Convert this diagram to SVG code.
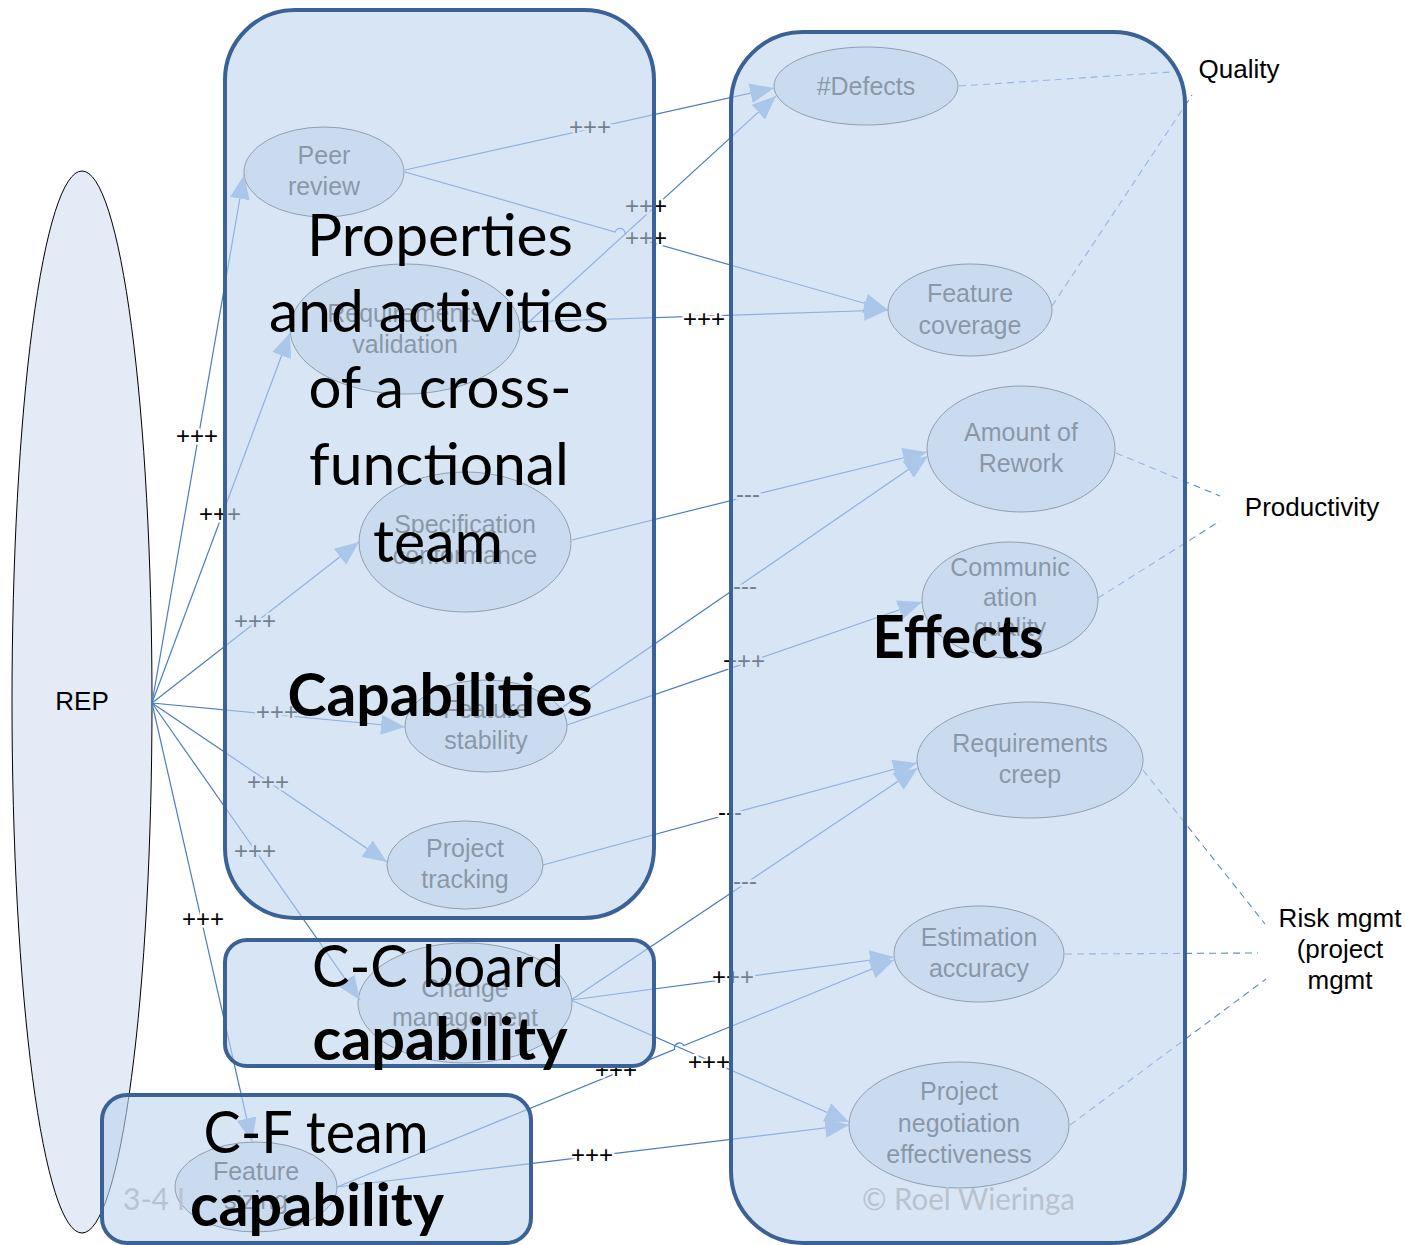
<svg xmlns="http://www.w3.org/2000/svg" width="1405" height="1245" viewBox="0 0 1405 1245">
<style>
.bg{fill:#ffffff}
.rep{fill:#e4ebf6;stroke:#000;stroke-width:1}
.node{fill:#dde7f3;stroke:#3a3a3a;stroke-width:0.9}
.nt{font-family:"Liberation Sans",Arial,sans-serif;font-size:25px;fill:#3c3c3c;text-anchor:middle}
.c{fill:none;stroke:#4a7dc4;stroke-width:1.2;marker-end:url(#arr)}
.d{fill:none;stroke:#5a8ad0;stroke-width:1.1;stroke-dasharray:7 5}
.lbl{font-family:"Liberation Sans",Arial,sans-serif;font-size:24px;fill:#000;text-anchor:middle;stroke:#fff;stroke-width:5;paint-order:stroke;stroke-linejoin:round}
.box{fill:#bed3ef;fill-opacity:0.6;stroke:#3b6296;stroke-width:4}
.big{font-family:Lato,"Open Sans",sans-serif;font-size:58px;fill:#000;text-anchor:middle}
.bigb{font-family:Lato,"Open Sans",sans-serif;font-size:60px;font-weight:700;fill:#000;text-anchor:middle}
.cat{font-family:"Liberation Sans",Arial,sans-serif;font-size:26px;fill:#000;text-anchor:middle}
.wm{font-family:Lato,"Open Sans",sans-serif;font-size:30px;fill:#b9c2cf}
</style>
<defs>
<marker id="arr" markerUnits="userSpaceOnUse" markerWidth="24" markerHeight="20" viewBox="0 0 24 20" refX="24" refY="10" orient="auto">
<path d="M0,0 L24,10 L0,20 z" fill="#8db3e2"/>
</marker>
</defs>
<rect class="bg" x="0" y="0" width="1405" height="1245"/>

<g id="rep"><ellipse class="rep" cx="82" cy="702" rx="70" ry="531"/><text class="cat" x="82" y="710">REP</text></g>

<g id="peer-review"><ellipse class="node" cx="324" cy="172" rx="80" ry="45"/><text class="nt" x="324" y="164">Peer</text><text class="nt" x="324" y="195">review</text></g>
<g id="requirements-validation"><ellipse class="node" cx="405" cy="329" rx="115" ry="65"/><text class="nt" x="405" y="322">Requirements</text><text class="nt" x="405" y="353">validation</text></g>
<g id="specification-conformance"><ellipse class="node" cx="465" cy="542" rx="106" ry="70"/><text class="nt" x="465" y="533">Specification</text><text class="nt" x="465" y="564">conformance</text></g>
<g id="feature-stability"><ellipse class="node" cx="486" cy="726" rx="81" ry="46"/><text class="nt" x="486" y="718">Feature</text><text class="nt" x="486" y="749">stability</text></g>
<g id="project-tracking"><ellipse class="node" cx="465" cy="865" rx="78" ry="44"/><text class="nt" x="465" y="857">Project</text><text class="nt" x="465" y="888">tracking</text></g>
<g id="change-management"><ellipse class="node" cx="465" cy="1003" rx="107" ry="60"/><text class="nt" x="465" y="997">Change</text><text class="nt" x="465" y="1026">management</text></g>
<g id="feature-sizing"><ellipse class="node" cx="256" cy="1187" rx="81" ry="45"/><text class="nt" x="256" y="1180">Feature</text><text class="nt" x="256" y="1209">sizing</text></g>

<g id="defects"><ellipse class="node" cx="866" cy="86" rx="92" ry="39"/><text class="nt" x="866" y="95">#Defects</text></g>
<g id="feature-coverage"><ellipse class="node" cx="970" cy="310" rx="82" ry="46"/><text class="nt" x="970" y="302">Feature</text><text class="nt" x="970" y="334">coverage</text></g>
<g id="amount-of-rework"><ellipse class="node" cx="1021" cy="449" rx="94" ry="63"/><text class="nt" x="1021" y="441">Amount of</text><text class="nt" x="1021" y="472">Rework</text></g>
<g id="communication-quality"><ellipse class="node" cx="1010" cy="600" rx="88" ry="58"/><text class="nt" x="1010" y="576">Communic</text><text class="nt" x="1010" y="606">ation</text><text class="nt" x="1010" y="636">quality</text></g>
<g id="requirements-creep"><ellipse class="node" cx="1030" cy="760" rx="113" ry="58"/><text class="nt" x="1030" y="752">Requirements</text><text class="nt" x="1030" y="783">creep</text></g>
<g id="estimation-accuracy"><ellipse class="node" cx="979" cy="954" rx="85" ry="48"/><text class="nt" x="979" y="946">Estimation</text><text class="nt" x="979" y="977">accuracy</text></g>
<g id="project-negotiation-effectiveness"><ellipse class="node" cx="959" cy="1125" rx="110" ry="63"/><text class="nt" x="959" y="1100">Project</text><text class="nt" x="959" y="1132">negotiation</text><text class="nt" x="959" y="1163">effectiveness</text></g>

<g id="connectors">
<path class="c" d="M152,703 L244,175"/>
<path class="c" d="M152,703 L290,333"/>
<path class="c" d="M152,703 L359,542"/>
<path class="c" d="M152,703 L405,727"/>
<path class="c" d="M152,703 L387,862"/>
<path class="c" d="M152,703 L360,1000"/>
<path class="c" d="M152,703 L252,1142"/>
<path class="c" d="M405,170 L774,88"/>
<path class="c" d="M405,172 L615.2,232 A5,5 0 0 1 624.8,234.8 L888,310"/>
<path class="c" d="M518,332 L776,96"/>
<path class="c" d="M520,322 L888,310"/>
<path class="c" d="M572,540 L927,452"/>
<path class="c" d="M563,707 L928,456"/>
<path class="c" d="M567,725 L922,602"/>
<path class="c" d="M543,865 L917,763"/>
<path class="c" d="M571,1000 L918,768"/>
<path class="c" d="M571,1000 L894,957"/>
<path class="c" d="M571,1000 L849,1122"/>
<path class="c" d="M337,1187 L674.7,1049.4 A5,5 0 0 1 683.9,1045.6 L894,960"/>
<path class="c" d="M337,1187 L849,1125"/>
<path class="d" d="M959,86 L1172,72"/>
<path class="d" d="M1052,306 L1192,95"/>
<path class="d" d="M1116,453 L1220,496"/>
<path class="d" d="M1098,598 L1220,521"/>
<path class="d" d="M1143,770 L1265,924"/>
<path class="d" d="M1065,954 L1258,953"/>
<path class="d" d="M1070,1125 L1266,979"/>
<text class="lbl" x="197" y="444">+++</text>
<text class="lbl" x="220" y="522">+++</text>
<text class="lbl" x="255" y="629">+++</text>
<text class="lbl" x="277" y="720">+++</text>
<text class="lbl" x="268" y="790">+++</text>
<text class="lbl" x="255" y="859">+++</text>
<text class="lbl" x="203" y="927">+++</text>
<text class="lbl" x="590" y="135">+++</text>
<text class="lbl" x="646" y="214">+++</text>
<text class="lbl" x="646" y="246">+++</text>
<text class="lbl" x="704" y="327">+++</text>
<text class="lbl" x="748" y="502">---</text>
<text class="lbl" x="745" y="594">---</text>
<text class="lbl" x="744" y="669">+++</text>
<text class="lbl" x="730" y="820">---</text>
<text class="lbl" x="745" y="889">---</text>
<text class="lbl" x="733" y="985">+++</text>
<text class="lbl" x="709" y="1070">+++</text>
<text class="lbl" x="616" y="1078">+++</text>
<text class="lbl" x="592" y="1163">+++</text>
</g>

<g id="capabilities-box">
<rect class="box" x="225" y="10" width="429" height="908" rx="70" ry="70"/>
<text class="big" x="440" y="256" textLength="266" lengthAdjust="spacingAndGlyphs">Properties</text>
<text class="big" x="439" y="332" textLength="340" lengthAdjust="spacingAndGlyphs">and activities</text>
<text class="big" x="440" y="408" textLength="263" lengthAdjust="spacingAndGlyphs">of a cross-</text>
<text class="big" x="439" y="485" textLength="260" lengthAdjust="spacingAndGlyphs">functional</text>
<text class="big" x="438" y="562" textLength="130" lengthAdjust="spacingAndGlyphs">team</text>
<text class="bigb" x="440" y="716" textLength="305" lengthAdjust="spacingAndGlyphs">Capabilities</text>
</g>
<g id="cc-board-box">
<rect class="box" x="225" y="940" width="429" height="126" rx="22" ry="22"/>
<text class="big" x="438" y="987" font-size="60" textLength="252" lengthAdjust="spacingAndGlyphs">C-C board</text>
<text class="bigb" x="440" y="1060" textLength="255" lengthAdjust="spacingAndGlyphs">capability</text>
</g>
<g id="cf-team-box">
<rect class="box" x="102" y="1095" width="429" height="148" rx="25" ry="25"/>
<text class="big" x="316" y="1153" font-size="60" textLength="225" lengthAdjust="spacingAndGlyphs">C-F team</text>
<text class="bigb" x="317" y="1226" textLength="254" lengthAdjust="spacingAndGlyphs">capability</text>
<text class="wm" x="123" y="1210">3-4 I</text>
</g>
<g id="effects-box">
<rect class="box" x="731" y="32" width="454" height="1211" rx="72" ry="72"/>
<text class="bigb" x="958" y="658" font-size="58" textLength="171" lengthAdjust="spacingAndGlyphs">Effects</text>
<text class="wm" x="862" y="1210" textLength="213" lengthAdjust="spacingAndGlyphs">© Roel Wieringa</text>
</g>

<g id="quality"><text class="cat" x="1239" y="78">Quality</text></g>
<g id="productivity"><text class="cat" x="1312" y="516">Productivity</text></g>
<g id="risk-mgmt"><text class="cat" x="1340" y="927">Risk mgmt</text><text class="cat" x="1340" y="958">(project</text><text class="cat" x="1340" y="989">mgmt</text></g>
</svg>
